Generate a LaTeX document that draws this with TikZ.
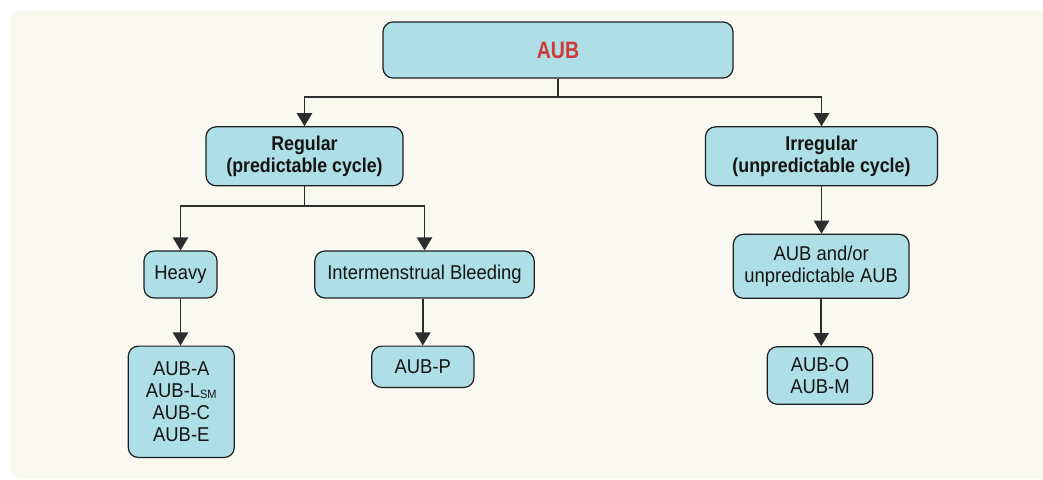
\documentclass[tikz,border=0pt]{standalone}
\usepackage{fontspec}
\setmainfont{Liberation Sans}[UprightFeatures={FakeStretch=0.92},BoldFeatures={FakeStretch=0.89}]
\newfontfamily\titlefont[FakeStretch=0.82]{Liberation Sans}
\usetikzlibrary{arrows.meta}
\definecolor{bgc}{RGB}{249,248,241}
\definecolor{boxc}{RGB}{174,222,230}
\definecolor{edgec}{RGB}{30,30,30}
\definecolor{linec}{RGB}{45,45,45}
\definecolor{redc}{RGB}{208,56,52}
\definecolor{txtc}{RGB}{20,20,20}
\tikzset{
  box/.style={draw=edgec, line width=0.9pt, fill=boxc, rounded corners=7.5pt,
    inner sep=0pt, align=center, text=txtc,
    font=\fontsize{15pt}{16.5pt}\selectfont},
  conn/.style={draw=linec, line width=1.2pt},
  arr/.style={conn, -{Triangle[width=11.5pt,length=9.8pt]}}
}
\begin{document}
\begin{tikzpicture}[x=0.75pt,y=-0.75pt]
\useasboundingbox (0,0) rectangle (1043,479);
\fill[bgc] (1043,10) -- (1043,479) [rounded corners=11pt] -- (10,479) -- (10,10) [sharp corners] -- (1043,10) -- cycle;

\node[box, minimum width=262.5pt, minimum height=42pt] (aub) at (558,50)
  {\titlefont\bfseries\fontsize{17.8pt}{20pt}\selectfont\textcolor{redc}{AUB}};
\node[box, minimum width=147.7pt, minimum height=44.2pt] (reg) at (304.5,156.3)
  {\textbf{Regular}\\\textbf{(predictable cycle)}};
\node[box, minimum width=174pt, minimum height=44.2pt] (irr) at (821.5,156.3)
  {\textbf{Irregular}\\\textbf{(unpredictable cycle)}};
\node[box, minimum width=54.8pt, minimum height=35.2pt] (heavy) at (180.5,274.5) {Heavy};
\node[box, minimum width=164.5pt, minimum height=35.2pt] (inter) at (424.5,274.5) {Intermenstrual Bleeding};
\node[box, minimum width=131.8pt, minimum height=48pt] (andor) at (821.2,266.3) {AUB and/or\\unpredictable AUB};
\node[box, minimum width=79.5pt, minimum height=83.5pt] (aubA) at (181.3,401.8)
  {AUB-A\\AUB-L\raisebox{-0.6pt}{\fontsize{9pt}{9pt}\selectfont SM}\\AUB-C\\AUB-E};
\node[box, minimum width=76.7pt, minimum height=31pt] (aubP) at (422.8,366.8) {AUB-P};
\node[box, minimum width=79pt, minimum height=43.2pt] (aubO) at (820,375.5) {AUB-O\\AUB-M};

\coordinate (j1) at (558,97);
\coordinate (j2) at (304.5,206);
\draw[conn] (aub.south) -- (j1);
\draw[arr] (j1) -| (reg.north);
\draw[arr] (j1) -| (irr.north);
\draw[conn] (reg.south) -- (j2);
\draw[arr] (j2) -| (heavy.north);
\draw[arr] (j2) -| (inter.north);
\draw[arr] (heavy.south) -- (heavy.south |- aubA.north);
\draw[arr] (aubP.north |- inter.south) -- (aubP.north);
\draw[arr] (irr.south) -- (irr.south |- andor.north);
\draw[arr] (andor.south) -- (andor.south |- aubO.north);
\end{tikzpicture}
\end{document}
